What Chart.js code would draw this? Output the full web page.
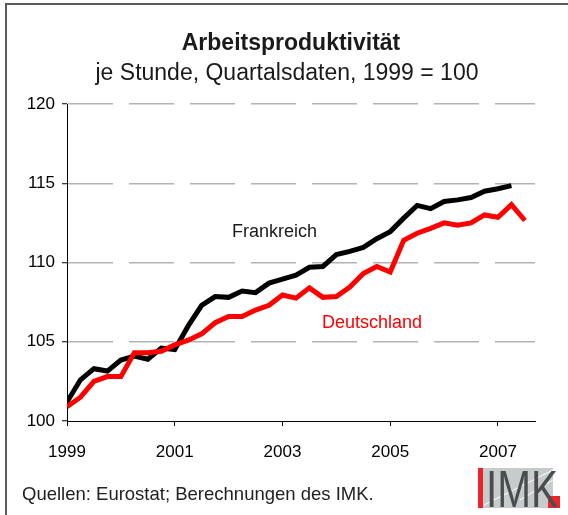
<!DOCTYPE html>
<html>
<head>
<meta charset="utf-8">
<script src="https://cdn.jsdelivr.net/npm/chart.js@4"></script>
<style>
  html, body { margin: 0; padding: 0; background: #fff; }
  canvas { display: block; }
</style>
</head>
<body>
<canvas id="chart" width="568" height="515"></canvas>
<script>
// Arbeitsproduktivität je Stunde, Quartalsdaten ab 1999 Q1 (1999 = 100)
const yearLabels = ['1999', '2001', '2003', '2005', '2007'];
const frankreich = [
    101.2, 102.6, 103.3, 103.15, 103.85, 104.1, 103.9, 104.6, 104.5,
    106.0, 107.3, 107.85, 107.8, 108.2, 108.1, 108.7, 108.95, 109.2,
    109.7, 109.75, 110.5, 110.7, 110.95, 111.5, 111.95, 112.8, 113.6,
    113.4, 113.85, 113.95, 114.1, 114.5, 114.65, 114.85
];
const deutschland = [
    100.9, 101.5, 102.5, 102.8, 102.8, 104.3, 104.3, 104.4, 104.8,
    105.1, 105.5, 106.2, 106.6, 106.6, 107.0, 107.3, 107.95, 107.75,
    108.4, 107.8, 107.85, 108.45, 109.3, 109.75, 109.4, 111.4, 111.85,
    112.15, 112.5, 112.35, 112.5, 113.0, 112.85, 113.65, 112.65
];

const FONT = '"Liberation Sans", Arial, sans-serif';

function toPoints(arr) {
    return arr.map((v, i) => ({ x: i, y: v }));
}

// Rahmen, Titel, Beschriftungen, Quelle und Logo
const decor = {
    id: 'decor',
    afterDraw(chart) {
        const ctx = chart.ctx;
        ctx.save();

        // Rahmen oben und links
        ctx.strokeStyle = '#5a5a5a';
        ctx.lineWidth = 2;
        ctx.beginPath();
        ctx.moveTo(6, 515);
        ctx.lineTo(6, 4);
        ctx.lineTo(568, 4);
        ctx.stroke();

        ctx.fillStyle = '#1a1a1a';
        ctx.textAlign = 'center';
        ctx.textBaseline = 'alphabetic';
        ctx.font = 'bold 23px ' + FONT;
        ctx.fillText('Arbeitsproduktivität', 291, 50);
        ctx.font = '23px ' + FONT;
        ctx.fillText('je Stunde, Quartalsdaten, 1999 = 100', 287, 80);

        ctx.textAlign = 'left';
        ctx.font = '18px ' + FONT;
        ctx.fillText('Frankreich', 232, 237);
        ctx.fillStyle = '#ff0000';
        ctx.fillText('Deutschland', 322, 328);

        ctx.fillStyle = '#222';
        ctx.font = '18.5px ' + FONT;
        ctx.fillText('Quellen: Eurostat; Berechnungen des IMK.', 22, 500);

        // IMK-Logo
        ctx.fillStyle = '#c8cbcc';
        ctx.fillRect(478, 468, 75, 40);
        ctx.strokeStyle = '#fff';
        ctx.lineWidth = 1;
        ctx.beginPath();
        ctx.moveTo(484, 505);
        ctx.lineTo(553, 470);
        ctx.moveTo(520, 500);
        ctx.lineTo(553, 480);
        ctx.stroke();
        ctx.fillStyle = '#ee2229';
        ctx.fillRect(478, 468, 5, 40);
        ctx.fillRect(548, 496, 12, 12);
        ctx.fillStyle = '#4a4d50';
        ctx.save();
        ctx.translate(486, 507);
        ctx.scale(0.78, 1);
        ctx.font = '52px ' + FONT;
        ctx.fillText('IMK', 0, 0);
        ctx.restore();

        ctx.restore();
    }
};

new Chart(document.getElementById('chart'), {
    type: 'line',
    data: {
        datasets: [
            {
                label: 'Deutschland',
                data: toPoints(deutschland),
                borderColor: '#ff0000',
                borderWidth: 5,
                pointRadius: 0,
                tension: 0
            },
            {
                label: 'Frankreich',
                data: toPoints(frankreich),
                borderColor: '#000000',
                borderWidth: 5,
                pointRadius: 0,
                tension: 0
            }
        ]
    },
    options: {
        responsive: false,
        animation: false,
        layout: { padding: { left: 0, right: 33, top: 104, bottom: 0 } },
        plugins: {
            legend: { display: false },
            tooltip: { enabled: false }
        },
        scales: {
            x: {
                type: 'linear',
                min: 0,
                max: 34.75,
                afterBuildTicks(scale) {
                    scale.ticks = yearLabels.map((l, i) => ({ value: i * 8 }));
                },
                afterFit(scale) { scale.height = 94; },
                ticks: {
                    callback: (v) => yearLabels[v / 8],
                    color: '#000',
                    font: { family: FONT, size: 17 },
                    padding: 16,
                    maxRotation: 0,
                    autoSkip: false
                },
                grid: {
                    drawOnChartArea: false,
                    tickLength: 5,
                    tickColor: '#000'
                },
                border: { color: '#000', width: 1 }
            },
            y: {
                min: 100,
                max: 120,
                afterFit(scale) { scale.width = 67; },
                ticks: {
                    stepSize: 5,
                    color: '#000',
                    font: { family: FONT, size: 17 },
                    padding: 7
                },
                grid: {
                    color: (c) => c.tick.value === 100 ? 'rgba(0,0,0,0)' : '#b3b3b3',
                    lineWidth: 1.5,
                    tickLength: 5,
                    tickColor: '#000',
                    tickBorderDash: [],
                    tickWidth: 1
                },
                border: { color: '#000', width: 1, dash: [45, 16] }
            }
        }
    },
    plugins: [decor]
});
</script>
</body>
</html>
